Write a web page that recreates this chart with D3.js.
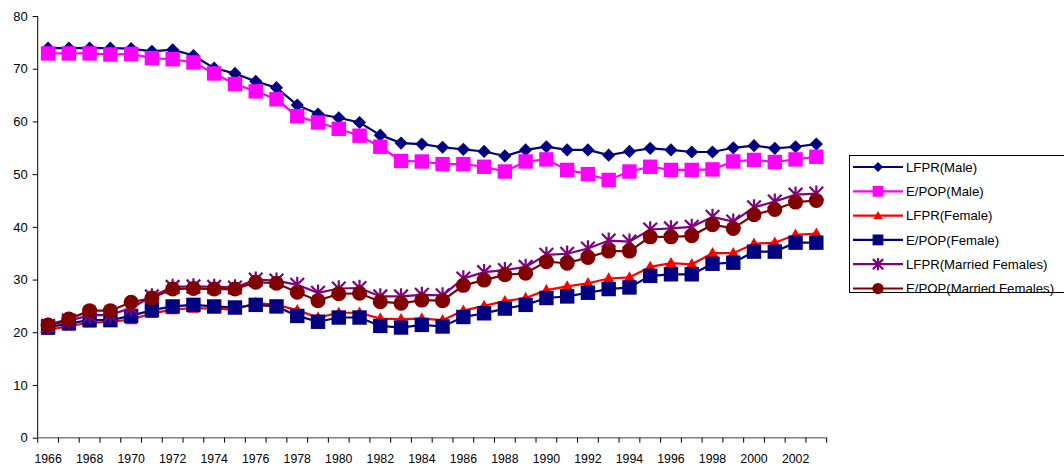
<!DOCTYPE html>
<html>
<head>
<meta charset="utf-8">
<script src="https://cdn.jsdelivr.net/npm/d3@7"></script>
<style>
  html, body { margin: 0; padding: 0; background: #fff; }
  svg { display: block; font-family: "Liberation Sans", Arial, sans-serif; }
</style>
</head>
<body>
<svg id="chart" width="1064" height="468"></svg>
<script>
// Labour force participation and employment-to-population rates, 1966-2003
const years = d3.range(1966, 2004);
const yTicks = [0, 10, 20, 30, 40, 50, 60, 70, 80];

const lfprMale = [73.9, 73.9, 73.9, 73.9, 73.8, 73.3, 73.6, 72.5, 70.1, 69.1, 67.6, 66.4, 63.1, 61.4, 60.7, 59.8,
  57.4, 55.9, 55.7, 55.1, 54.7, 54.3, 53.45, 54.6, 55.2, 54.6, 54.6, 53.6, 54.3, 54.9, 54.6, 54.2, 54.2, 55.0,
  55.4, 54.9, 55.2, 55.7];
const epopMale = [72.9, 72.9, 72.9, 72.7, 72.8, 72.0, 71.8, 71.2, 69.1, 67.1, 65.7, 64.2, 61.0, 59.8, 58.6, 57.3,
  55.2, 52.5, 52.4, 51.9, 51.9, 51.4, 50.5, 52.4, 52.8, 50.8, 50.0, 48.9, 50.5, 51.4, 50.8, 50.8, 50.9, 52.4,
  52.7, 52.3, 52.8, 53.3];
const lfprFemale = [20.4, 21.2, 21.8, 22.0, 22.4, 23.6, 24.3, 24.6, 24.5, 24.3, 25.6, 25.2, 24.2, 22.8, 23.7, 23.7,
  22.6, 22.5, 22.6, 22.3, 24.1, 25.0, 25.9, 26.5, 28.0, 28.7, 29.3, 30.2, 30.4, 32.4, 33.1, 32.9, 35.0, 35.0,
  36.8, 37.0, 38.5, 38.7];
const epopFemale = [20.9, 21.7, 22.3, 22.3, 23.1, 24.2, 24.9, 25.2, 24.9, 24.7, 25.2, 24.9, 23.1, 22.0, 22.8, 22.8,
  21.2, 20.9, 21.4, 21.1, 22.9, 23.6, 24.5, 25.2, 26.5, 26.8, 27.5, 28.2, 28.5, 30.7, 31.0, 31.0, 33.0, 33.2,
  35.3, 35.3, 37.0, 37.0];
const lfprMarried = [21.2, 22.2, 23.2, 23.3, 24.6, 26.8, 28.6, 28.7, 28.6, 28.5, 30.0, 29.8, 29.0, 27.5, 28.3, 28.4,
  26.8, 26.8, 27.1, 27.0, 30.2, 31.4, 31.8, 32.4, 34.7, 34.9, 35.9, 37.4, 37.2, 39.5, 39.7, 40.0, 41.9, 41.0,
  43.7, 44.8, 46.1, 46.3];
const epopMarried = [21.4, 22.5, 24.1, 24.1, 25.7, 26.5, 28.2, 28.3, 28.2, 28.2, 29.5, 29.3, 27.6, 26.0, 27.3, 27.4,
  25.8, 25.5, 26.1, 26.0, 28.9, 29.9, 30.9, 31.2, 33.4, 33.1, 34.2, 35.4, 35.4, 38.1, 38.1, 38.3, 40.4, 39.7,
  42.3, 43.3, 44.7, 45.0];

const seriesNames = ["LFPR(Male)", "E/POP(Male)", "LFPR(Female)", "E/POP(Female)",
  "LFPR(Married Females)", "E/POP(Married Females)"];
const seriesValues = [lfprMale, epopMale, lfprFemale, epopFemale, lfprMarried, epopMarried];
const seriesColors = ["#000080", "#FF00FF", "#FF0000", "#000080", "#800080", "#800000"];
const seriesMarkers = ["diamond", "square", "triangle", "square", "star", "circle"];

const series = seriesNames.map((name, i) => ({
  name, color: seriesColors[i], marker: seriesMarkers[i],
  values: years.map((yr, j) => ({ year: yr, value: seriesValues[i][j] }))
}));

const svg = d3.select("#chart");
const margin = { left: 37.7, top: 16, right: 826.7, bottom: 437.7 };

const x = d3.scaleBand().domain(years).range([margin.left, margin.right]).paddingInner(0).paddingOuter(0);
const y = d3.scaleLinear().domain([0, 80]).range([margin.bottom, margin.top]);
const cx = d => x(d) + x.bandwidth() / 2;

// Y axis
const yAxis = svg.append("g")
  .attr("transform", `translate(${margin.left},0)`)
  .call(d3.axisLeft(y).tickValues(yTicks).tickSize(5).tickPadding(5).tickFormat(d3.format("d")));
yAxis.select(".domain").attr("stroke", "#000").attr("d", `M0,${margin.top}V${margin.bottom}`);
yAxis.selectAll(".tick line").attr("stroke", "#000");
yAxis.selectAll("text").attr("font-size", 13).attr("fill", "#000")
  .attr("font-family", "Liberation Sans, Arial, sans-serif");

// X axis: ticks on band boundaries, labels every second year
const xAxis = svg.append("g").attr("transform", `translate(0,${margin.bottom})`);
xAxis.append("line").attr("x1", margin.left).attr("x2", margin.right)
  .attr("y1", 0).attr("y2", 0).attr("stroke", "#808080").attr("stroke-width", 1.5);
const boundaries = years.map(yr => x(yr)).concat([margin.right]);
xAxis.selectAll("line.tk").data(boundaries).enter().append("line").attr("class", "tk")
  .attr("x1", d => d).attr("x2", d => d).attr("y1", 0).attr("y2", 5)
  .attr("stroke", "#000").attr("stroke-width", 1);
xAxis.selectAll("text").data(years.filter(yr => (yr - 1966) % 2 === 0)).enter().append("text")
  .attr("x", d => cx(d)).attr("y", 25).attr("text-anchor", "middle")
  .attr("font-size", 12.3).attr("fill", "#000").text(d => d);

// Marker shapes
function drawMarker(g, type, color, px, py, scale = 1) {
  if (type === "diamond") {
    const s = 6.6 * scale;
    g.append("path").attr("d", `M${px},${py - s}L${px + s},${py}L${px},${py + s}L${px - s},${py}Z`)
      .attr("fill", color);
  } else if (type === "square") {
    const s = 7.2 * scale;
    g.append("rect").attr("x", px - s).attr("y", py - s).attr("width", 2 * s).attr("height", 2 * s)
      .attr("fill", color);
  } else if (type === "triangle") {
    const s = 6.2 * scale;
    g.append("path").attr("d", `M${px},${py - s}L${px + s},${py + s * 0.75}L${px - s},${py + s * 0.75}Z`)
      .attr("fill", color);
  } else if (type === "circle") {
    g.append("circle").attr("cx", px).attr("cy", py).attr("r", 7.5 * scale).attr("fill", color);
  } else if (type === "star") {
    const s = 6.8 * scale;
    g.append("path")
      .attr("d", `M${px - s},${py - s}L${px + s},${py + s}M${px + s},${py - s}L${px - s},${py + s}M${px},${py - s * 1.2}L${px},${py + s * 1.2}`)
      .attr("stroke", color).attr("stroke-width", 2.2).attr("fill", "none");
  }
}

const line = d3.line().x(d => cx(d.year)).y(d => y(d.value));

// Series: line then markers, in plotting order
series.forEach(s => {
  const g = svg.append("g");
  g.append("path").datum(s.values).attr("d", line)
    .attr("fill", "none").attr("stroke", s.color).attr("stroke-width", 2.2);
  s.values.forEach(d => drawMarker(g, s.marker, s.color, cx(d.year), y(d.value)));
});

// Legend
const legend = svg.append("g");
legend.append("rect").attr("x", 849.5).attr("y", 155.5).attr("width", 230).attr("height", 137)
  .attr("fill", "#fff").attr("stroke", "#000").attr("stroke-width", 1);
const legendY = d3.scalePoint().domain(seriesNames).range([167, 288.5]);
series.forEach(s => {
  const ly = legendY(s.name);
  legend.append("line").attr("x1", 853).attr("x2", 903).attr("y1", ly).attr("y2", ly)
    .attr("stroke", s.color).attr("stroke-width", 2.2);
  drawMarker(legend, s.marker, s.color, 878, ly, 0.75);
  legend.append("text").attr("x", 906).attr("y", ly + 4.6).attr("font-size", 13.2)
    .attr("fill", "#000").text(s.name);
});
</script>
</body>
</html>
